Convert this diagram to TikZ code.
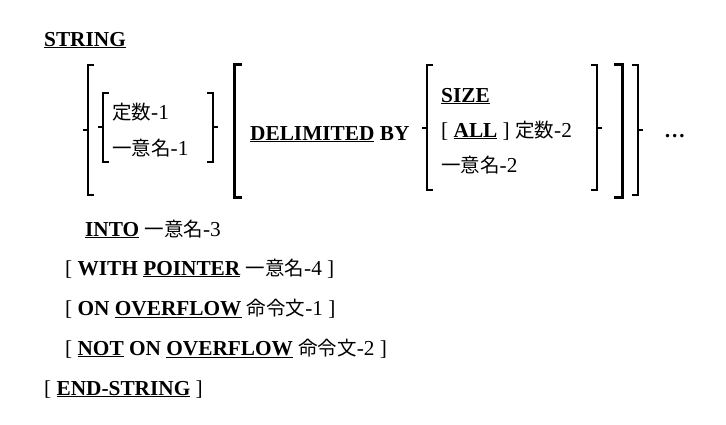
\documentclass[tikz,border=0pt]{standalone}
\usepackage{fontspec}
\setmainfont{Liberation Serif}
\newfontfamily\cjk{Noto Sans CJK JP}
\newcommand{\J}[1]{{\cjk\fontsize{19.5}{22}\selectfont #1}}
\newcommand{\U}[1]{\underline{#1}}
\begin{document}
\begin{tikzpicture}[x=1pt,y=-1pt,
  txt/.style={anchor=base west,inner sep=0pt,font=\fontsize{21.3}{24}\selectfont},
  br/.style={line width=1.2pt},
  bbr/.style={line width=3pt}]
\useasboundingbox (0,0) rectangle (726,424);
\newcommand{\LB}[4]{\draw[br] (#1+6,#2)--(#1,#2)--(#1,#3)--(#1+6,#3); \draw[br] (#1,#4)--(#1-5,#4);}
\newcommand{\RB}[4]{\draw[br] (#1-6,#2)--(#1,#2)--(#1,#3)--(#1-6,#3); \draw[br] (#1,#4)--(#1+5,#4);}
\node[txt] (s) at (44,46) {\textbf{\U{STRING}}};
\LB{88}{65}{195}{130}
\LB{103}{93}{162}{127}
\node[txt] (c1) at (112,119) {\J{定数}-1};
\node[txt] (i1) at (112,155) {\J{一意名}-1};
\RB{213}{93}{162}{127}
\draw[bbr] (242,64)--(234,64)--(234,197)--(242,197);
\node[txt] (d) at (250,140) {\textbf{\U{DELIMITED} BY}};
\LB{427}{65}{190}{128}
\node[txt] (sz) at (441,102) {\textbf{\U{SIZE}}};
\node[txt] (al) at (441,137) {[ \textbf{\U{ALL}} ] \J{定数}-2};
\node[txt] (i2) at (441,172) {\J{一意名}-2};
\RB{597}{65}{190}{128}
\draw[bbr] (614,64)--(622,64)--(622,197)--(614,197);
\RB{638}{65}{195}{130}
\node[txt] (dots) at (664,137) {\textbf{\dots}};
\node[txt] (into) at (85,236) {\textbf{\U{INTO}} \J{一意名}-3};
\node[txt] (w) at (65,275) {[ \textbf{WITH \U{POINTER}} \J{一意名}-4 ]};
\node[txt] (o) at (65,315) {[ \textbf{ON \U{OVERFLOW}} \J{命令文}-1 ]};
\node[txt] (n) at (65,355) {[ \textbf{\U{NOT} ON \U{OVERFLOW}} \J{命令文}-2 ]};
\node[txt] (e) at (44,395) {[ \textbf{\U{END-STRING}} ]};
\end{tikzpicture}
\end{document}
